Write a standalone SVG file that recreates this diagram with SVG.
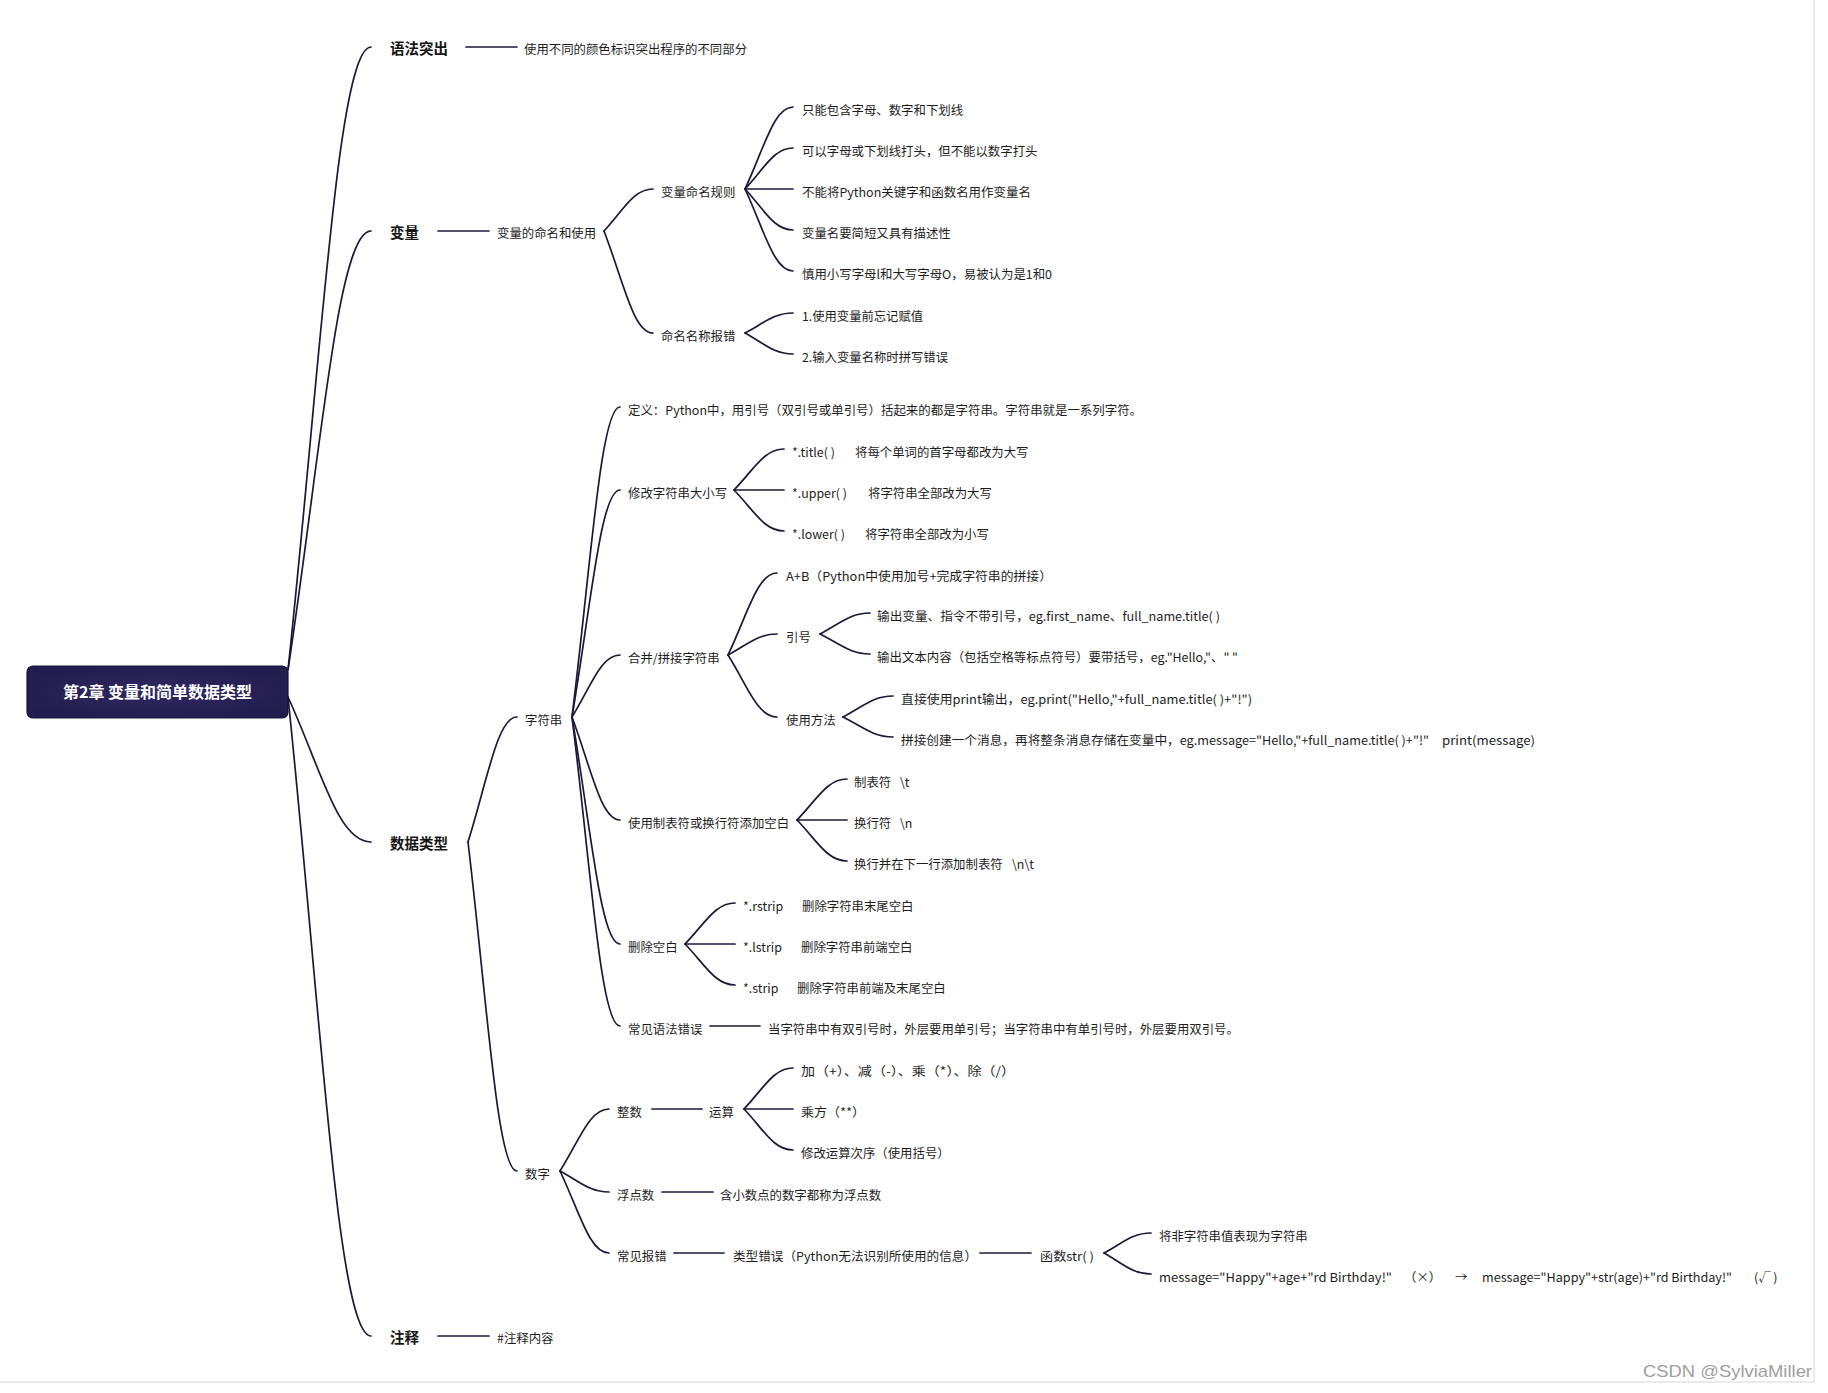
<svg xmlns="http://www.w3.org/2000/svg" width="1828" height="1393" viewBox="0 0 1828 1393">
<defs>
<radialGradient id="rootFill" cx="50%" cy="50%" r="60%">
<stop offset="0%" stop-color="#2e2862"/>
<stop offset="100%" stop-color="#221d4c"/>
</radialGradient>
<style>
.t{font-family:"Noto Sans CJK SC","Noto Sans",sans-serif;font-size:12.4px;fill:#1d1d1d}
.l1{font-family:"Noto Sans CJK SC","Noto Sans",sans-serif;font-size:14.5px;font-weight:bold;fill:#161616}
.root{font-family:"Noto Sans CJK SC","Noto Sans",sans-serif;font-size:16px;font-weight:bold;fill:#ffffff;text-anchor:middle}
.c{fill:none;stroke:#1b1838;stroke-width:1.7;stroke-linecap:round}
.wm{font-family:"Liberation Sans",Arial,sans-serif;font-size:17px;fill:#9e9e9e}
.frame{stroke:#e3e3e3;stroke-width:1.5;fill:none}
</style>
</defs>
<rect width="1828" height="1393" fill="#ffffff"/>
<path class="frame" d="M1814 0 V1382 H0"/>

<g id="connectors">
<path class="c" d="M288 670 C321.2 358.5 337.8 47 371 47"/>
<path class="c" d="M288 670 C321.2 450.5 337.8 231 371 231"/>
<path class="c" d="M288 697 C321.2 769.5 337.8 842 371 842"/>
<path class="c" d="M288 697 C321.2 1016.5 337.8 1336 371 1336"/>
<path class="c" d="M466 47 H517"/>
<path class="c" d="M438 231 H489"/>
<path class="c" d="M438 1336 H489"/>
<path class="c" d="M604 231 C623.6 210 633.4 189 653 189"/>
<path class="c" d="M604 231 C623.6 282 633.4 333 653 333"/>
<path class="c" d="M745 189 C764.2 148 773.8 107 793 107"/>
<path class="c" d="M745 189 C764.2 168.5 773.8 148 793 148"/>
<path class="c" d="M745 189 H793"/>
<path class="c" d="M745 189 C764.2 209.5 773.8 230 793 230"/>
<path class="c" d="M745 189 C764.2 230 773.8 271 793 271"/>
<path class="c" d="M745 333 C764.2 323 773.8 313 793 313"/>
<path class="c" d="M745 333 C764.2 343.5 773.8 354 793 354"/>
<path class="c" d="M468 842 C487.6 779.5 497.4 717 517 717"/>
<path class="c" d="M468 842 C487.6 1006.5 497.4 1171 517 1171"/>
<path class="c" d="M572 717 C591.2 562 600.8 407 620 407"/>
<path class="c" d="M572 717 C591.2 603.5 600.8 490 620 490"/>
<path class="c" d="M572 717 C591.2 686 600.8 655 620 655"/>
<path class="c" d="M572 717 C591.2 768.5 600.8 820 620 820"/>
<path class="c" d="M572 717 C591.2 830.5 600.8 944 620 944"/>
<path class="c" d="M572 717 C591.2 871.5 600.8 1026 620 1026"/>
<path class="c" d="M734 490 C754 469.5 764 449 784 449"/>
<path class="c" d="M734 490 H784"/>
<path class="c" d="M734 490 C754 510.5 764 531 784 531"/>
<path class="c" d="M728 655 C747.6 614 757.4 573 777 573"/>
<path class="c" d="M728 655 C747.6 644.5 757.4 634 777 634"/>
<path class="c" d="M728 655 C747.6 686 757.4 717 777 717"/>
<path class="c" d="M820 634 C840 623.5 850 613 870 613"/>
<path class="c" d="M820 634 C840 644 850 654 870 654"/>
<path class="c" d="M843 717 C863 706.5 873 696 893 696"/>
<path class="c" d="M843 717 C863 727 873 737 893 737"/>
<path class="c" d="M797 820 C817 799.5 827 779 847 779"/>
<path class="c" d="M797 820 H847"/>
<path class="c" d="M797 820 C817 840.5 827 861 847 861"/>
<path class="c" d="M685 944 C705 923.5 715 903 735 903"/>
<path class="c" d="M685 944 H735"/>
<path class="c" d="M685 944 C705 964.5 715 985 735 985"/>
<path class="c" d="M710 1026 H760"/>
<path class="c" d="M560 1171 C579.6 1140 589.4 1109 609 1109"/>
<path class="c" d="M560 1171 C579.6 1181.5 589.4 1192 609 1192"/>
<path class="c" d="M560 1171 C579.6 1212 589.4 1253 609 1253"/>
<path class="c" d="M652 1109 H702"/>
<path class="c" d="M744 1109 C763.6 1088.5 773.4 1068 793 1068"/>
<path class="c" d="M744 1109 H793"/>
<path class="c" d="M744 1109 C763.6 1129.5 773.4 1150 793 1150"/>
<path class="c" d="M662 1192 H713"/>
<path class="c" d="M674 1253 H724"/>
<path class="c" d="M980 1253 H1031"/>
<path class="c" d="M1104 1253 C1122.8 1243 1132.2 1233 1151 1233"/>
<path class="c" d="M1104 1253 C1122.8 1263.5 1132.2 1274 1151 1274"/>
</g>

<g id="n-root">
<rect x="27" y="666" width="261" height="52" rx="6" fill="url(#rootFill)" stroke="#17143a" stroke-width="1.2"/>
<text class="root" x="157.5" y="698">第2章 变量和简单数据类型</text>
</g>

<g id="n-yufa"><text class="l1" x="390" y="54">语法突出</text></g>
<g id="n-yufa-1"><text class="t" x="524" y="53.7">使用不同的颜色标识突出程序的不同部分</text></g>

<g id="n-bianliang"><text class="l1" x="390" y="238">变量</text></g>
<g id="n-bl-1"><text class="t" x="497" y="237.7">变量的命名和使用</text></g>
<g id="n-bl-rule"><text class="t" x="661" y="196.7">变量命名规则</text></g>
<g id="n-bl-rule-1"><text class="t" x="802" y="114.7">只能包含字母、数字和下划线</text></g>
<g id="n-bl-rule-2"><text class="t" x="802" y="155.7">可以字母或下划线打头，但不能以数字打头</text></g>
<g id="n-bl-rule-3"><text class="t" x="802" y="196.7" textLength="229" lengthAdjust="spacingAndGlyphs">不能将Python关键字和函数名用作变量名</text></g>
<g id="n-bl-rule-4"><text class="t" x="802" y="237.7">变量名要简短又具有描述性</text></g>
<g id="n-bl-rule-5"><text class="t" x="802" y="278.7" textLength="250" lengthAdjust="spacingAndGlyphs">慎用小写字母l和大写字母O，易被认为是1和0</text></g>
<g id="n-bl-err"><text class="t" x="661" y="340.7">命名名称报错</text></g>
<g id="n-bl-err-1"><text class="t" x="802" y="320.7" textLength="121" lengthAdjust="spacingAndGlyphs">1.使用变量前忘记赋值</text></g>
<g id="n-bl-err-2"><text class="t" x="802" y="361.7" textLength="146" lengthAdjust="spacingAndGlyphs">2.输入变量名称时拼写错误</text></g>

<g id="n-shuju"><text class="l1" x="390" y="849">数据类型</text></g>
<g id="n-str"><text class="t" x="525" y="724.7">字符串</text></g>
<g id="n-str-def"><text class="t" x="628" y="414.7" textLength="514" lengthAdjust="spacingAndGlyphs">定义：Python中，用引号（双引号或单引号）括起来的都是字符串。字符串就是一系列字符。</text></g>
<g id="n-str-case"><text class="t" x="628" y="497.7">修改字符串大小写</text></g>
<g id="n-str-case-1"><text class="t" x="792" y="456.7">*.title( )</text><text class="t" x="855" y="456.7">将每个单词的首字母都改为大写</text></g>
<g id="n-str-case-2"><text class="t" x="792" y="497.7">*.upper( )</text><text class="t" x="868" y="497.7">将字符串全部改为大写</text></g>
<g id="n-str-case-3"><text class="t" x="792" y="538.7">*.lower( )</text><text class="t" x="865" y="538.7">将字符串全部改为小写</text></g>
<g id="n-str-cat"><text class="t" x="628" y="662.7">合并/拼接字符串</text></g>
<g id="n-str-cat-1"><text class="t" x="786" y="580.7" textLength="266" lengthAdjust="spacingAndGlyphs">A+B（Python中使用加号+完成字符串的拼接）</text></g>
<g id="n-str-cat-q"><text class="t" x="786" y="641.7">引号</text></g>
<g id="n-str-cat-q-1"><text class="t" x="877" y="620.7" textLength="343" lengthAdjust="spacingAndGlyphs">输出变量、指令不带引号，eg.first_name、full_name.title( )</text></g>
<g id="n-str-cat-q-2"><text class="t" x="877" y="661.7" textLength="361" lengthAdjust="spacingAndGlyphs">输出文本内容（包括空格等标点符号）要带括号，eg."Hello,"、" "</text></g>
<g id="n-str-cat-use"><text class="t" x="786" y="724.7">使用方法</text></g>
<g id="n-str-cat-use-1"><text class="t" x="901" y="703.7" textLength="351" lengthAdjust="spacingAndGlyphs">直接使用print输出，eg.print("Hello,"+full_name.title( )+"!")</text></g>
<g id="n-str-cat-use-2"><text class="t" x="901" y="744.7" textLength="528" lengthAdjust="spacingAndGlyphs">拼接创建一个消息，再将整条消息存储在变量中，eg.message="Hello,"+full_name.title( )+"!"</text><text class="t" x="1442" y="744.7" textLength="93" lengthAdjust="spacingAndGlyphs">print(message)</text></g>
<g id="n-str-ws"><text class="t" x="628" y="827.7">使用制表符或换行符添加空白</text></g>
<g id="n-str-ws-1"><text class="t" x="854" y="786.7">制表符</text><text class="t" x="900" y="786.7">\t</text></g>
<g id="n-str-ws-2"><text class="t" x="854" y="827.7">换行符</text><text class="t" x="900" y="827.7">\n</text></g>
<g id="n-str-ws-3"><text class="t" x="854" y="868.7">换行并在下一行添加制表符</text><text class="t" x="1012" y="868.7">\n\t</text></g>
<g id="n-str-strip"><text class="t" x="628" y="951.7">删除空白</text></g>
<g id="n-str-strip-1"><text class="t" x="743" y="910.7">*.rstrip</text><text class="t" x="802" y="910.7">删除字符串末尾空白</text></g>
<g id="n-str-strip-2"><text class="t" x="743" y="951.7">*.lstrip</text><text class="t" x="801" y="951.7">删除字符串前端空白</text></g>
<g id="n-str-strip-3"><text class="t" x="743" y="992.7">*.strip</text><text class="t" x="797" y="992.7">删除字符串前端及末尾空白</text></g>
<g id="n-str-err"><text class="t" x="628" y="1033.7">常见语法错误</text></g>
<g id="n-str-err-1"><text class="t" x="768" y="1033.7">当字符串中有双引号时，外层要用单引号；当字符串中有单引号时，外层要用双引号。</text></g>

<g id="n-num"><text class="t" x="525" y="1178.7">数字</text></g>
<g id="n-num-int"><text class="t" x="617" y="1116.7">整数</text></g>
<g id="n-num-op"><text class="t" x="709" y="1116.7">运算</text></g>
<g id="n-num-op-1"><text class="t" x="801" y="1075.7" textLength="214" lengthAdjust="spacingAndGlyphs">加（+）、减（-）、乘（*）、除（/）</text></g>
<g id="n-num-op-2"><text class="t" x="801" y="1116.7" textLength="64" lengthAdjust="spacingAndGlyphs">乘方（**）</text></g>
<g id="n-num-op-3"><text class="t" x="801" y="1157.7">修改运算次序（使用括号）</text></g>
<g id="n-num-float"><text class="t" x="617" y="1199.7">浮点数</text></g>
<g id="n-num-float-1"><text class="t" x="720" y="1199.7">含小数点的数字都称为浮点数</text></g>
<g id="n-num-err"><text class="t" x="617" y="1260.7">常见报错</text></g>
<g id="n-num-err-1"><text class="t" x="733" y="1260.7" textLength="244" lengthAdjust="spacingAndGlyphs">类型错误（Python无法识别所使用的信息）</text></g>
<g id="n-num-err-str"><text class="t" x="1040" y="1260.7" textLength="54" lengthAdjust="spacingAndGlyphs">函数str( )</text></g>
<g id="n-num-err-str-1"><text class="t" x="1159" y="1240.7">将非字符串值表现为字符串</text></g>
<g id="n-num-err-str-2"><text class="t" x="1159" y="1281.7" textLength="233" lengthAdjust="spacingAndGlyphs">message="Happy"+age+"rd Birthday!"</text><text class="t" x="1404" y="1281.7">（×）</text><text class="t" x="1455" y="1281.7">→</text><text class="t" x="1482" y="1281.7" textLength="250" lengthAdjust="spacingAndGlyphs">message="Happy"+str(age)+"rd Birthday!"</text><text class="t" x="1754" y="1281.7">(√ )</text></g>

<g id="n-zhushi"><text class="l1" x="390" y="1343">注释</text></g>
<g id="n-zhushi-1"><text class="t" x="497" y="1342.7">#注释内容</text></g>

<text class="wm" x="1643" y="1377" textLength="169" lengthAdjust="spacingAndGlyphs">CSDN @SylviaMiller</text>
</svg>
